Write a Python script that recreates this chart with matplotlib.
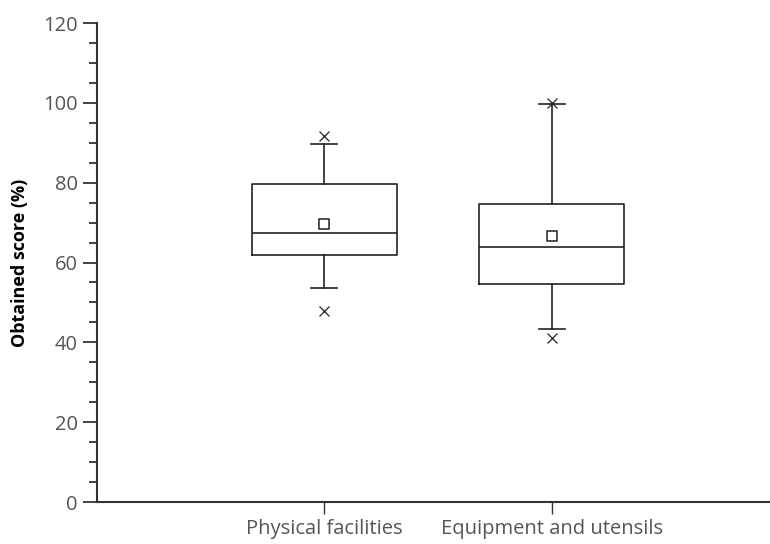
import matplotlib.pyplot as plt
from matplotlib.ticker import MultipleLocator

categories = ['Physical facilities', 'Equipment and utensils']
q1 = [62.0, 54.5]
medians = [67.5, 63.8]
q3 = [79.6, 74.7]
means = [69.6, 66.6]
whislo = [53.7, 43.3]
whishi = [89.7, 99.7]
outliers = [[91.8, 47.8], [100.0, 41.0]]

stats = []
for i in range(len(categories)):
    stats.append(dict(label=categories[i], q1=q1[i], med=medians[i], q3=q3[i],
                      mean=means[i], whislo=whislo[i], whishi=whishi[i],
                      fliers=outliers[i]))

plt.rcParams['font.family'] = ['Open Sans', 'DejaVu Sans']

fig = plt.figure(figsize=(7.7, 5.44), dpi=100)
ax = fig.add_axes([0.126, 0.0772, 0.874, 0.8805])

lc = '#222222'
line = dict(color=lc, linewidth=1.2)
ax.bxp(stats, positions=[1, 2], widths=0.64, capwidths=0.115, showmeans=True,
       boxprops=line, medianprops=line, whiskerprops=line, capprops=line,
       meanprops=dict(marker='s', markerfacecolor='white', markeredgecolor=lc,
                      markersize=7, markeredgewidth=1.1),
       flierprops=dict(marker='x', markeredgecolor=lc, markersize=6.5,
                       markeredgewidth=0.9))

ax.set_xlim(0, 2.96)
ax.set_ylim(0, 120)
ax.yaxis.set_major_locator(MultipleLocator(20))
ax.yaxis.set_minor_locator(MultipleLocator(5))
ax.set_xticks([1, 2])
ax.set_xticklabels(categories)

for s in ['top', 'right']:
    ax.spines[s].set_visible(False)
for s in ['left', 'bottom']:
    ax.spines[s].set_color('#333333')
    ax.spines[s].set_linewidth(1.5)

ax.tick_params(axis='y', which='major', length=10, width=1.3, color='#333333',
               labelsize=14.5, labelcolor='#555555', pad=4)
ax.tick_params(axis='y', which='minor', length=6, width=1.3, color='#333333')
ax.tick_params(axis='x', which='major', length=8.5, width=1.0, color='#333333',
               labelsize=14.5, labelcolor='#555555', pad=4)

ax.set_ylabel('Obtained score (%)', fontsize=13, fontweight='bold',
              color='black', labelpad=10)

fig.savefig('out.png', dpi=100)
